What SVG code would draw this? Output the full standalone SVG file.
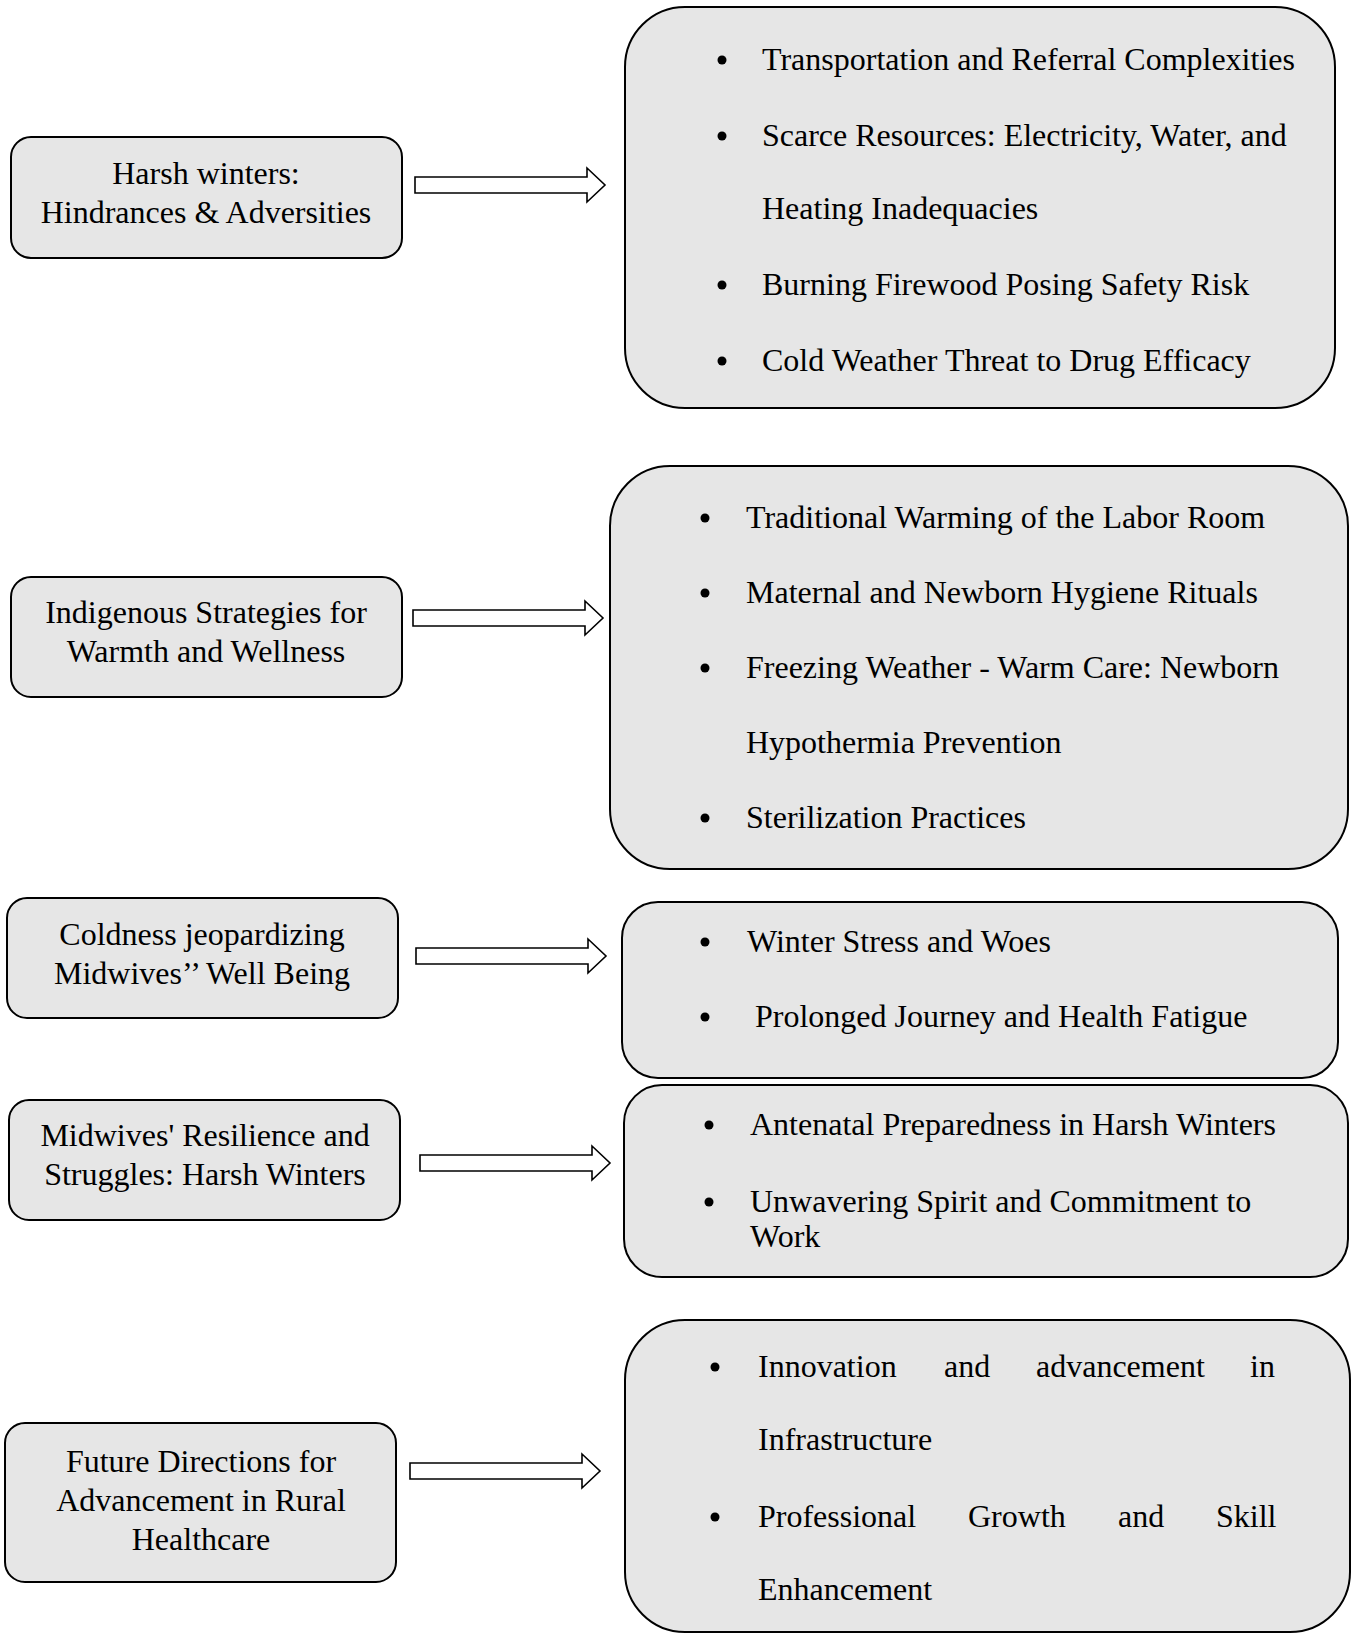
<svg xmlns="http://www.w3.org/2000/svg" xmlns:xlink="http://www.w3.org/1999/xlink" width="1354" height="1633" viewBox="0 0 1354 1633">
<style>
.box{fill:#e6e6e6;stroke:#000;stroke-width:2}
.arrow{fill:#fff;stroke:#000;stroke-width:1.6}
.lt{font-family:"Liberation Serif","Times New Roman",serif;font-size:32px;fill:#000;text-anchor:middle}
.rt{font-family:"Liberation Serif","Times New Roman",serif;font-size:32px;fill:#000}
.bul{fill:#000}
</style>
<defs>
<path id="arr" class="arrow" d="M0,-8 H172 V-17 L190,0 L172,17 V8 H0 Z"/>
</defs>
<rect width="1354" height="1633" fill="#fff"/>

<g id="n1">
<rect class="box" x="11" y="137" width="391" height="121" rx="20"/>
<text class="lt" x="206" y="184">Harsh winters:</text>
<text class="lt" x="206" y="223">Hindrances &amp; Adversities</text>
</g>
<g id="n1r">
<rect class="box" x="625" y="7" width="710" height="401" rx="60"/>
<circle class="bul" cx="722" cy="60" r="4.5"/>
<text class="rt" x="762" y="70">Transportation and Referral Complexities</text>
<circle class="bul" cx="722" cy="136" r="4.5"/>
<text class="rt" x="762" y="146">Scarce Resources: Electricity, Water, and</text>
<text class="rt" x="762" y="219">Heating Inadequacies</text>
<circle class="bul" cx="722" cy="285" r="4.5"/>
<text class="rt" x="762" y="295">Burning Firewood Posing Safety Risk</text>
<circle class="bul" cx="722" cy="361" r="4.5"/>
<text class="rt" x="762" y="371">Cold Weather Threat to Drug Efficacy</text>
</g>

<g id="n2">
<rect class="box" x="11" y="577" width="391" height="120" rx="20"/>
<text class="lt" x="206" y="623">Indigenous Strategies for</text>
<text class="lt" x="206" y="662">Warmth and Wellness</text>
</g>
<g id="n2r">
<rect class="box" x="610" y="466" width="738" height="403" rx="60"/>
<circle class="bul" cx="705" cy="518" r="4.5"/>
<text class="rt" x="746" y="528">Traditional Warming of the Labor Room</text>
<circle class="bul" cx="705" cy="593" r="4.5"/>
<text class="rt" x="746" y="603">Maternal and Newborn Hygiene Rituals</text>
<circle class="bul" cx="705" cy="668" r="4.5"/>
<text class="rt" x="746" y="678">Freezing Weather - Warm Care: Newborn</text>
<text class="rt" x="746" y="753">Hypothermia Prevention</text>
<circle class="bul" cx="705" cy="818" r="4.5"/>
<text class="rt" x="746" y="828">Sterilization Practices</text>
</g>

<g id="n3">
<rect class="box" x="7" y="898" width="391" height="120" rx="20"/>
<text class="lt" x="202" y="945">Coldness jeopardizing</text>
<text class="lt" x="202" y="984">Midwives’’ Well Being</text>
</g>
<g id="n3r">
<rect class="box" x="622" y="902" width="716" height="176" rx="36"/>
<circle class="bul" cx="705" cy="942" r="4.5"/>
<text class="rt" x="747" y="952">Winter Stress and Woes</text>
<circle class="bul" cx="705" cy="1017" r="4.5"/>
<text class="rt" x="755" y="1027">Prolonged Journey and Health Fatigue</text>
</g>

<g id="n4">
<rect class="box" x="9" y="1100" width="391" height="120" rx="20"/>
<text class="lt" x="205" y="1146">Midwives' Resilience and</text>
<text class="lt" x="205" y="1185">Struggles: Harsh Winters</text>
</g>
<g id="n4r">
<rect class="box" x="624" y="1085" width="724" height="192" rx="38"/>
<circle class="bul" cx="709" cy="1125" r="4.5"/>
<text class="rt" x="750" y="1135">Antenatal Preparedness in Harsh Winters</text>
<circle class="bul" cx="709" cy="1202" r="4.5"/>
<text class="rt" x="750" y="1212">Unwavering Spirit and Commitment to</text>
<text class="rt" x="750" y="1247">Work</text>
</g>

<g id="n5">
<rect class="box" x="5" y="1423" width="391" height="159" rx="20"/>
<text class="lt" x="201" y="1472">Future Directions for</text>
<text class="lt" x="201" y="1511">Advancement in Rural</text>
<text class="lt" x="201" y="1550">Healthcare</text>
</g>
<g id="n5r">
<rect class="box" x="625" y="1320" width="725" height="312" rx="60"/>
<circle class="bul" cx="715" cy="1367" r="4.5"/>
<text class="rt" y="1377"><tspan x="758">Innovation</tspan><tspan x="944">and</tspan><tspan x="1036">advancement</tspan><tspan x="1250">in</tspan></text>
<text class="rt" x="758" y="1450">Infrastructure</text>
<circle class="bul" cx="715" cy="1517" r="4.5"/>
<text class="rt" y="1527"><tspan x="758">Professional</tspan><tspan x="968">Growth</tspan><tspan x="1118">and</tspan><tspan x="1216">Skill</tspan></text>
<text class="rt" x="758" y="1600">Enhancement</text>
</g>

<g id="connectors">
<use xlink:href="#arr" x="415" y="185"/>
<use xlink:href="#arr" x="413" y="618"/>
<use xlink:href="#arr" x="416" y="956"/>
<use xlink:href="#arr" x="420" y="1163"/>
<use xlink:href="#arr" x="410" y="1471"/>
</g>
</svg>
